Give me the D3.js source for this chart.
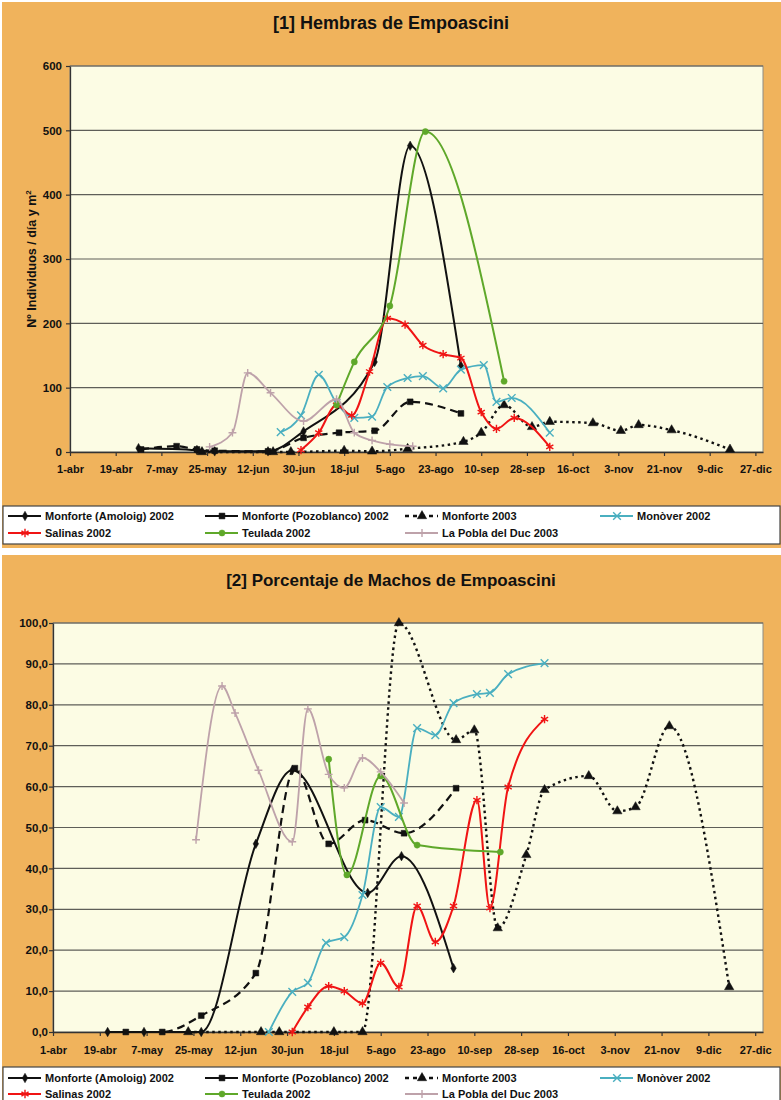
<!DOCTYPE html>
<html>
<head>
<meta charset="utf-8">
<script src="https://cdn.jsdelivr.net/npm/d3@7"></script>
<style>
  body { margin: 0; background: #fff; }
  text { font-family: "Liberation Sans", Arial, sans-serif; font-weight: bold; fill: #111; }
</style>
</head>
<body>
<svg id="chart" width="781" height="1100"></svg>
<script>
///////////////////////////////////////////////////////////////////
// DATA ///////////////////////////////////////////////////////////
var xTickLabels = ["1-abr","19-abr","7-may","25-may","12-jun","30-jun","18-jul","5-ago",
                   "23-ago","10-sep","28-sep","16-oct","3-nov","21-nov","9-dic","27-dic"];
var seriesNames = ["Monforte (Amoloig) 2002","Monforte (Pozoblanco) 2002","Monforte 2003",
                   "Monòver 2002","Salinas 2002","Teulada 2002","La Pobla del Duc 2003"];

var yTicksHembras = [0,100,200,300,400,500,600];
var yTicksMachos  = [0,10,20,30,40,50,60,70,80,90,100];

// [1] Hembras (individuos / dia y m2)
var amoloigH    = [["28-abr",6],["21-may",3],["28-may",1],["18-jun",1],["2-jul",32],["30-jul",140],["13-ago",476],["2-sep",134]];
var pozoblancoH = [["29-abr",4],["13-may",9],["21-may",4],["28-may",2],["18-jun",1],["2-jul",22],["16-jul",30],["30-jul",33],["13-ago",78],["2-sep",60]];
var monforte03H = [["23-may",0],["20-jun",0],["27-jun",0],["18-jul",2],["29-jul",1],["12-ago",5],["3-sep",16],["10-sep",30],["19-sep",73],
                   ["30-sep",39],["7-oct",47],["24-oct",45],["4-nov",33],["11-nov",42],["24-nov",34],["17-dic",4]];
var monoverH    = [["23-jun",31],["1-jul",57],["8-jul",120],["15-jul",76],["22-jul",53],["29-jul",55],["4-ago",101],["12-ago",115],
                   ["18-ago",118],["26-ago",99],["2-sep",128],["11-sep",135],["16-sep",78],["22-sep",84],["7-oct",30]];
var salinasH    = [["1-jul",3],["8-jul",30],["15-jul",73],["21-jul",57],["28-jul",125],["4-ago",208],["11-ago",198],["18-ago",166],
                   ["26-ago",152],["2-sep",146],["10-sep",62],["16-sep",36],["23-sep",53],["7-oct",8]];
var teuladaH    = [["15-jul",73],["22-jul",140],["5-ago",227],["19-ago",498],["19-sep",110]];
var poblaH      = [["26-may",8],["4-jun",30],["10-jun",123],["19-jun",92],["2-jul",48],["15-jul",82],["22-jul",30],["29-jul",18],
                   ["5-ago",12],["14-ago",9]];

// [2] Porcentaje de machos
var amoloigP    = [["22-abr",0],["6-may",0],["28-may",0],["18-jun",46],["2-jul",64],["31-jul",34],["13-ago",43],["2-sep",15.6]];
var pozoblancoP = [["29-abr",0],["13-may",0],["28-may",4],["18-jun",14.4],["3-jul",64.5],["16-jul",46],["30-jul",51.8],["14-ago",48.6],["3-sep",59.6]];
var monforte03P = [["23-may",0],["20-jun",0],["27-jun",0],["18-jul",0],["29-jul",0],["12-ago",100],["3-sep",71.4],["10-sep",73.8],
                   ["19-sep",25.4],["30-sep",43.3],["7-oct",59.2],["24-oct",62.6],["4-nov",54],["11-nov",55],["24-nov",74.8],["17-dic",11]];
var monoverP    = [["23-jun",0],["2-jul",9.8],["8-jul",12],["15-jul",21.8],["22-jul",23.2],["29-jul",33.5],["5-ago",55],["12-ago",52.6],
                   ["19-ago",74.3],["26-ago",72.6],["2-sep",80.4],["11-sep",82.6],["16-sep",82.9],["23-sep",87.5],["7-oct",90.2]];
var salinasP    = [["2-jul",0],["8-jul",6.1],["16-jul",11.2],["22-jul",10],["29-jul",7],["5-ago",16.9],["12-ago",11],["19-ago",30.8],
                   ["26-ago",22],["2-sep",30.8],["11-sep",56.7],["16-sep",30.3],["23-sep",59.9],["7-oct",76.5]];
var teuladaP    = [["16-jul",66.7],["23-jul",38.4],["5-ago",62.6],["19-ago",45.7],["20-sep",44]];
var poblaP      = [["26-may",47],["5-jun",84.6],["10-jun",78],["19-jun",64],["2-jul",46.5],["8-jul",79],["16-jul",63],["22-jul",59.7],
                   ["29-jul",67],["5-ago",63.6],["14-ago",56]];

///////////////////////////////////////////////////////////////////
// STYLES /////////////////////////////////////////////////////////
var seriesStyles = [
  {color:"#111111", width:2,   dash:null,      symbol:d3.symbolDiamond,  size:26, filled:true},
  {color:"#111111", width:2.2, dash:"8,5",     symbol:d3.symbolSquare,   size:34, filled:true},
  {color:"#111111", width:2.4, dash:"2.5,3.5", symbol:d3.symbolTriangle, size:38, filled:true},
  {color:"#4AAFC0", width:1.8, dash:null,      symbol:d3.symbolTimes,    size:40, filled:false},
  {color:"#F01414", width:2,   dash:null,      symbol:d3.symbolAsterisk, size:48, filled:false},
  {color:"#5FA82A", width:2,   dash:null,      symbol:d3.symbolCircle,   size:30, filled:true},
  {color:"#BEA2AA", width:1.8, dash:null,      symbol:d3.symbolPlus,     size:22, filled:false}
];
var legendCols = [8, 205, 405, 600];

var monthIndex = {ene:0,feb:1,mar:2,abr:3,may:4,jun:5,jul:6,ago:7,sep:8,oct:9,nov:10,dic:11};
var parseDay = function(s){
  var p = s.split("-");
  return new Date(Date.UTC(2002, monthIndex[p[1]], +p[0]));
};
var esFormat = d3.formatLocale({decimal:",", thousands:".", grouping:[3], currency:["","€"]}).format(".1f");

var svg = d3.select("#chart");

///////////////////////////////////////////////////////////////////
// DRAW ONE PANEL /////////////////////////////////////////////////
var drawChart = function(cfg){
  var g = svg.append("g");

  g.append("rect").attr("x",2).attr("y",cfg.panelTop).attr("width",779).attr("height",cfg.panelHeight)
    .attr("fill","#F0B35C");

  g.append("text").attr("x",391).attr("y",cfg.titleY).attr("text-anchor","middle")
    .attr("font-size",cfg.titleSize).text(cfg.title);

  var x = d3.scaleUtc().domain([parseDay("1-abr"), parseDay("30-dic")]).range([cfg.left, cfg.right]);
  var y = d3.scaleLinear().domain([0, cfg.yMax]).range([cfg.bottom, cfg.top]);

  // PLOT AREA + GRID
  g.append("rect").attr("x",cfg.left).attr("y",cfg.top)
    .attr("width",cfg.right - cfg.left).attr("height",cfg.bottom - cfg.top)
    .attr("fill","#FCFCE4").attr("stroke","#8c8c84").attr("stroke-width",1);

  g.append("g").selectAll("line").data(cfg.yTicks.slice(1)).enter().append("line")
    .attr("x1",cfg.left).attr("x2",cfg.right)
    .attr("y1",function(d){ return y(d); }).attr("y2",function(d){ return y(d); })
    .attr("stroke","#5e5e58").attr("stroke-width",1.2);

  // AXES
  var yAxis = g.append("g").attr("transform","translate(" + cfg.left + ",0)")
    .call(d3.axisLeft(y).tickValues(cfg.yTicks).tickFormat(cfg.yFormat)
      .tickSize(4).tickSizeOuter(0).tickPadding(cfg.yPad));
  var xAxis = g.append("g").attr("transform","translate(0," + cfg.bottom + ")")
    .call(d3.axisBottom(x).tickValues(xTickLabels.map(parseDay))
      .tickFormat(function(d,i){ return xTickLabels[i]; })
      .tickSize(4).tickSizeOuter(0).tickPadding(cfg.xPad));
  [yAxis, xAxis].forEach(function(a){
    a.attr("font-family",null);
    a.select(".domain").attr("stroke","#333").attr("stroke-width",1.3);
    a.selectAll(".tick line").attr("stroke","#333").attr("stroke-width",1.2);
    a.selectAll(".tick text").attr("font-size",null).style("font-size","11.5px").attr("fill","#111");
  });
  xAxis.selectAll(".tick text").style("font-size","11px");

  if (cfg.yLabel){
    var yl = g.append("text").attr("transform","translate(36," + ((cfg.top + cfg.bottom) / 2) + ") rotate(-90)")
      .attr("text-anchor","middle").attr("font-size",12.5).text(cfg.yLabel);
    yl.append("tspan").attr("dy",-5).attr("font-size",8).text("2");
  }

  // SERIES (smoothed, no overshoot below zero)
  var line = d3.line().curve(d3.curveMonotoneX)
    .x(function(p){ return x(parseDay(p[0])); })
    .y(function(p){ return y(p[1]); });

  cfg.series.forEach(function(values, i){
    var st = seriesStyles[i];
    g.append("path").datum(values).attr("d", line)
      .attr("fill","none").attr("stroke",st.color).attr("stroke-width",st.width)
      .attr("stroke-dasharray",st.dash).attr("stroke-linejoin","round");

    g.append("g").selectAll("path").data(values).enter().append("path")
      .attr("transform",function(p){ return "translate(" + x(parseDay(p[0])) + "," + y(p[1]) + ")"; })
      .attr("d", d3.symbol().type(st.symbol).size(st.size))
      .attr("fill", st.filled ? st.color : "none")
      .attr("stroke", st.color).attr("stroke-width", st.filled ? 0.5 : 1.4);
  });

  // LEGEND
  g.append("rect").attr("x",3).attr("y",cfg.legendTop).attr("width",777).attr("height",cfg.legendHeight)
    .attr("fill","#ffffff").attr("stroke","#444").attr("stroke-width",1.2);

  var items = g.append("g").selectAll("g").data(seriesNames).enter().append("g")
    .attr("transform",function(d,i){
      var col = i < 4 ? i : i - 4;
      var row = i < 4 ? 0 : 1;
      return "translate(" + legendCols[col] + "," + cfg.legendRows[row] + ")";
    });
  items.append("line").attr("x1",0).attr("x2",33).attr("y1",0).attr("y2",0)
    .attr("stroke",function(d,i){ return seriesStyles[i].color; })
    .attr("stroke-width",function(d,i){ return seriesStyles[i].width; })
    .attr("stroke-dasharray",function(d,i){ return i === 2 ? "4,4" : null; });
  items.append("path").attr("transform","translate(17,0)")
    .attr("d",function(d,i){ return d3.symbol().type(seriesStyles[i].symbol).size(seriesStyles[i].size)(); })
    .attr("fill",function(d,i){ return seriesStyles[i].filled ? seriesStyles[i].color : "none"; })
    .attr("stroke",function(d,i){ return seriesStyles[i].color; })
    .attr("stroke-width",function(d,i){ return seriesStyles[i].filled ? 0.5 : 1.4; });
  items.append("text").attr("x",37).attr("y",4).attr("font-size",11).text(function(d){ return d; });
};

///////////////////////////////////////////////////////////////////
// RENDER BOTH PANELS /////////////////////////////////////////////
drawChart({
  panelTop:2, panelHeight:546, title:"[1] Hembras de Empoascini", titleY:29, titleSize:18,
  left:70, right:763, top:66, bottom:452, yMax:600, yTicks:yTicksHembras,
  yFormat:d3.format("d"), yPad:4, xPad:9,
  yLabel:"Nº Individuos / día y m",
  series:[amoloigH, pozoblancoH, monforte03H, monoverH, salinasH, teuladaH, poblaH],
  legendTop:506, legendHeight:38, legendRows:[516, 533]
});

drawChart({
  panelTop:555, panelHeight:545, title:"[2] Porcentaje de Machos de Empoascini", titleY:586, titleSize:17,
  left:53, right:763, top:623, bottom:1032, yMax:100, yTicks:yTicksMachos,
  yFormat:esFormat, yPad:1, xPad:10,
  yLabel:null,
  series:[amoloigP, pozoblancoP, monforte03P, monoverP, salinasP, teuladaP, poblaP],
  legendTop:1067, legendHeight:40, legendRows:[1078, 1094]
});
</script>
</body>
</html>
